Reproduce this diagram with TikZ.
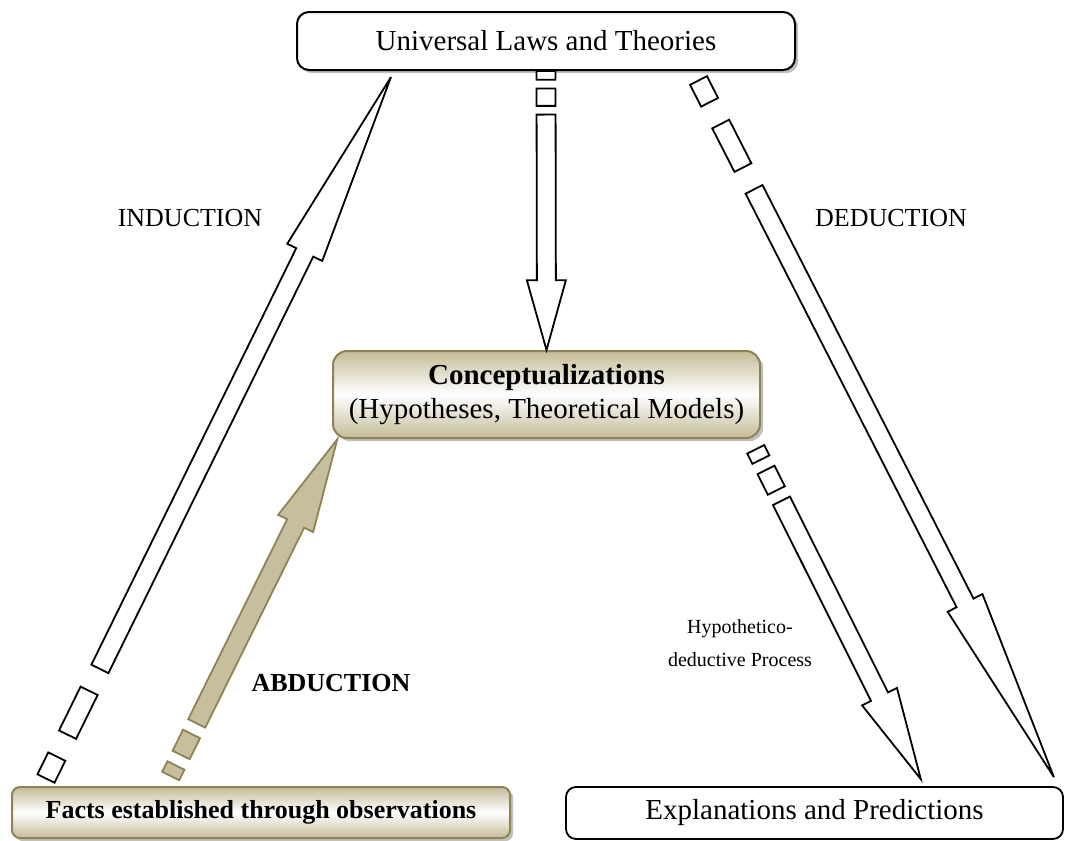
\documentclass[tikz,border=0pt]{standalone}
\usepackage{fontspec}
\setmainfont{Liberation Serif}
\usetikzlibrary{calc,shadows}

\definecolor{olivefill}{RGB}{196,188,152}
\definecolor{oliveedge}{RGB}{142,131,86}
\definecolor{abdfill}{RGB}{198,190,156}

\tikzset{
  lawbox/.style={draw=black, line width=1pt, fill=white, rounded corners=6pt,
    drop shadow={shadow xshift=1.6pt, shadow yshift=-1.6pt}},
  olivebox/.style={draw=oliveedge, line width=1pt, top color=olivefill,
    bottom color=olivefill, middle color=white, rounded corners=7pt,
    drop shadow={shadow xshift=1.6pt, shadow yshift=-1.6pt}},
  plainbox/.style={draw=black, line width=0.9pt, fill=white, rounded corners=5pt},
  hollowarrow/.style={draw=black, fill=white, line width=0.9pt},
  abdarrow/.style={draw=oliveedge, fill=abdfill, line width=0.9pt},
}

% striped block arrow: two bars, then shaft and head, all as fractions of the length
\newcommand{\stripedarrow}[3]{%
  \foreach \ta/\tb in {0/0.03125, 0.0625/0.125}
    \draw[#1] ($(#2)!\ta!(#3)!\sw!90:(#3)$) -- ($(#2)!\tb!(#3)!\sw!90:(#3)$)
      -- ($(#2)!\tb!(#3)!\sw!-90:(#3)$) -- ($(#2)!\ta!(#3)!\sw!-90:(#3)$) -- cycle;
  \draw[#1] ($(#2)!0.15625!(#3)!\sw!90:(#3)$) -- ($(#2)!0.75!(#3)!\sw!90:(#3)$)
    -- ($(#2)!0.75!(#3)!\hw!90:(#3)$) -- (#3)
    -- ($(#2)!0.75!(#3)!\hw!-90:(#3)$) -- ($(#2)!0.75!(#3)!\sw!-90:(#3)$)
    -- ($(#2)!0.15625!(#3)!\sw!-90:(#3)$) -- cycle;
}

\begin{document}
\begin{tikzpicture}[x=0.5pt, y=-0.5pt]
\useasboundingbox (0,0) rectangle (1066,841);
\def\sw{4.75pt}
\def\hw{9.75pt}

%%%%% boxes
\node[lawbox, minimum width=249pt, minimum height=29pt,
  font=\fontsize{14.5}{17}\selectfont] (laws) at (546,41) {Universal Laws and Theories};
\node[olivebox, minimum width=213.5pt, minimum height=43.5pt, align=center,
  font=\fontsize{14.5}{17}\selectfont] (concept) at (546.5,394.5)
  {\textbf{Conceptualizations}\\(Hypotheses, Theoretical Models)};
\node[olivebox, rounded corners=4pt, minimum width=249pt, minimum height=25.5pt,
  font=\fontsize{13}{15}\selectfont\bfseries] (facts) at (261,812.5)
  {Facts established through observations};
\node[plainbox, minimum width=248.5pt, minimum height=26pt,
  font=\fontsize{14.5}{17}\selectfont] (expl) at (814.5,813) {Explanations and Predictions};

%%%%% arrow ends
\coordinate (indtail) at ($(facts.north west)+(35,-7.5)$);
\coordinate (indtip) at ($(laws.south west)+(95,6)$);
\coordinate (dedtail) at ($(laws.south east)+(-97.5,9.5)$);
\coordinate (dedtip) at ($(expl.north east)+(-10,-9)$);
\coordinate (hyptail) at ($(concept.south east)+(-5.3,10.3)$);
\coordinate (hyptip) at ($(expl.north west)+(355.7,-7)$);
\coordinate (abdtail) at ($(facts.north west)+(159.7,-10)$);
\coordinate (abdtip) at ($(concept.south west)+(5.3,0.3)$);

%%%%% arrows
\stripedarrow{hollowarrow}{indtail}{indtip}
\stripedarrow{hollowarrow}{dedtail}{dedtip}
\stripedarrow{hollowarrow}{laws.south}{concept.north}
\stripedarrow{hollowarrow}{hyptail}{hyptip}
\stripedarrow{abdarrow}{abdtail}{abdtip}

%%%%% labels
\node[font=\fontsize{13}{15}\selectfont] (induction) at (190,218) {INDUCTION};
\node[font=\fontsize{13}{15}\selectfont] (deduction) at (891,218) {DEDUCTION};
\node[font=\fontsize{13}{15}\selectfont\bfseries] (abduction) at (331,683) {ABDUCTION};
\node[align=center, font=\fontsize{10}{16.5}\selectfont] (hypo) at (740,643)
  {Hypothetico-\\deductive Process};
\end{tikzpicture}
\end{document}
